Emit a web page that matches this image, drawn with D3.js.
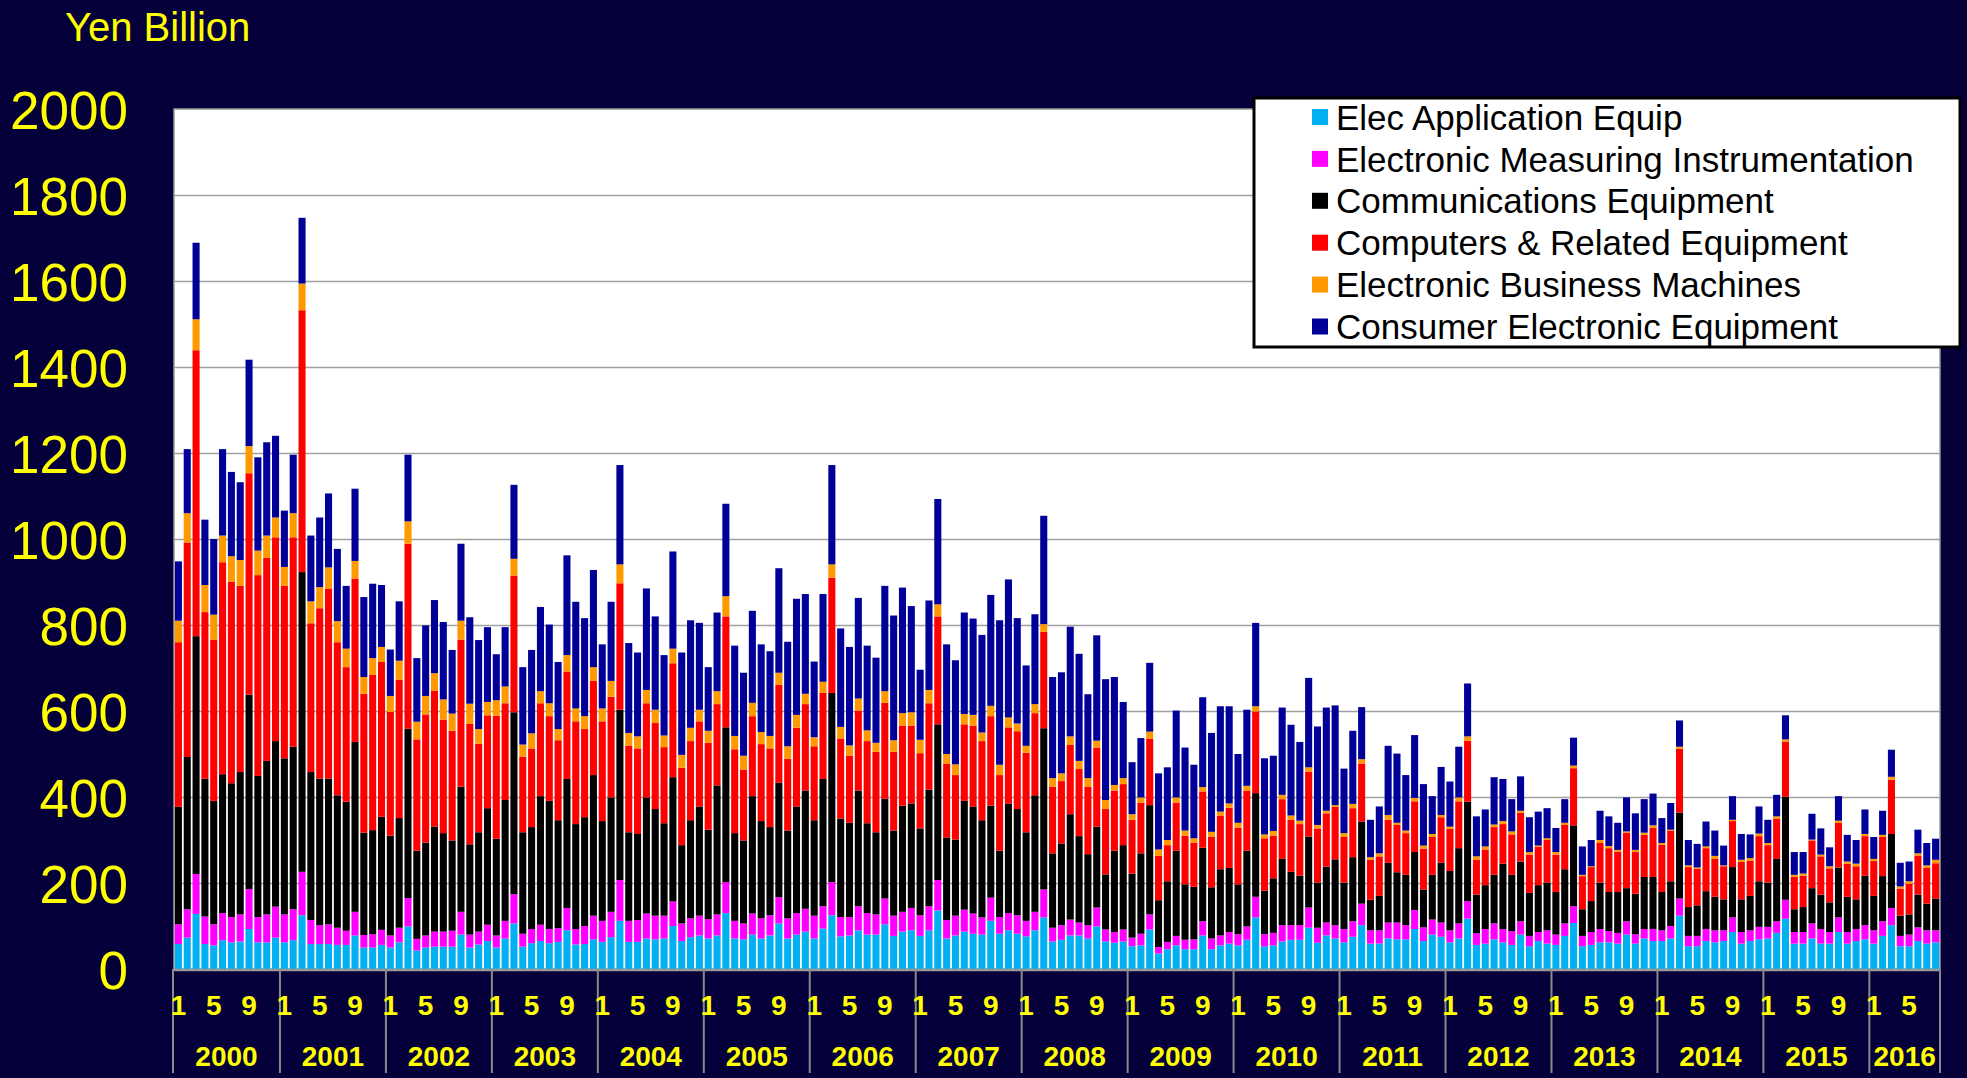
<!DOCTYPE html>
<html>
    <head>
        <meta charset="utf-8">
        <title>Japan Electronics Production - Yen Billion</title>
        <script src="https://cdn.jsdelivr.net/npm/d3@7"></script>
        <style>
            body { margin: 0; background: #05003a; }
            text { font-family: "Liberation Sans", Arial, sans-serif; }
        </style>
    </head>
    <body>
        <svg id="svg"></svg>

        <script>
            var WIDTH = 1967;
            var HEIGHT = 1078;
            var PLOT = {left: 174, right: 1940, top: 109, bottom: 969};

            var years = [2000,2001,2002,2003,2004,2005,2006,2007,2008,2009,2010,2011,2012,2013,2014,2015,2016];
            var monthsInYear = [12,12,12,12,12,12,12,12,12,12,12,12,12,12,12,12,8];
            var monthTicks = [1,5,9];
            var yTicks = [0,200,400,600,800,1000,1200,1400,1600,1800,2000];

            var seriesNames = ["Elec Application Equip","Electronic Measuring Instrumentation",
                               "Communications Equipment","Computers & Related Equipment",
                               "Electronic Business Machines","Consumer Electronic Equipment"];
            var seriesColors = ["#00b0f0","#ff00ff","#000000","#ff0000","#ff9900","#000099"];

            // one row per year, Jan..Dec
            var elecApp = [
                [58,73,128,58,55,67,62,64,93,62,62,73],
                [62,67,125,58,58,58,56,56,78,50,50,56],
                [50,62,99,43,50,52,52,52,80,50,57,65],
                [50,71,106,52,60,65,60,63,90,57,58,69],
                [63,74,112,63,63,71,69,71,100,65,74,78],
                [71,78,130,71,69,80,71,78,106,71,80,87],
                [71,94,125,76,78,90,80,80,104,77,87,90],
                [77,90,136,71,78,87,82,80,112,82,90,82],
                [76,90,120,64,68,78,78,71,99,64,61,64],
                [53,55,92,36,46,55,46,46,78,46,55,59],
                [55,68,120,53,55,64,68,68,96,61,78,71],
                [62,75,102,59,59,71,69,69,93,65,80,75],
                [62,71,117,56,59,69,62,56,80,53,65,59],
                [56,77,107,53,56,62,62,59,80,59,71,65],
                [65,71,124,53,53,65,62,65,86,59,65,69],
                [71,84,117,59,59,71,59,59,86,59,65,69],
                [59,77,102,53,53,65,59,62]
            ].flat();

            var measuring = [
                [46,66,93,64,49,63,59,63,93,59,65,72],
                [65,72,101,56,44,46,40,33,55,29,31,35],
                [28,34,66,27,28,35,35,37,53,30,30,38],
                [28,41,68,30,33,38,33,32,52,36,42,55],
                [49,59,95,49,51,58,55,53,57,41,44,46],
                [45,49,72,41,37,49,47,47,61,47,50,53],
                [53,52,77,45,43,56,50,47,60,47,46,52],
                [48,56,71,43,46,51,47,40,54,39,40,43],
                [36,43,65,32,34,37,30,31,44,28,25,28],
                [20,27,35,15,17,22,22,23,33,25,23,27],
                [26,31,48,28,29,38,34,34,47,35,30,31],
                [31,36,50,31,31,37,39,33,44,32,35,33],
                [28,35,41,27,34,37,31,32,31,24,21,31],
                [24,29,39,24,30,31,26,25,31,22,22,28],
                [25,29,40,24,24,28,28,25,34,27,25,29],
                [27,27,44,27,27,35,34,27,34,27,28,33],
                [31,34,40,24,27,32,31,28]
            ].flat();

            var communications = [
                [273,354,553,321,287,323,311,331,452,328,357,385],
                [363,378,697,344,341,339,308,300,395,238,242,263],
                [232,255,394,205,216,244,229,210,291,210,231,271],
                [225,281,423,236,237,299,298,251,300,244,253,327],
                [232,266,396,206,200,270,248,215,289,182,228,254],
                [208,300,360,204,193,273,226,205,266,204,248,275],
                [222,296,440,229,219,269,209,191,232,198,247,243],
                [202,271,362,192,177,253,249,226,214,154,255,247],
                [206,271,375,173,190,245,201,165,188,128,189,196],
                [149,187,254,109,141,198,129,122,171,119,154,149],
                [116,176,241,101,127,154,124,115,165,105,130,153],
                [108,149,191,71,80,139,117,117,135,88,104,139],
                [138,175,231,90,102,113,152,131,139,100,109,111],
                [99,126,188,62,72,108,91,95,77,94,121,121],
                [89,104,200,67,71,88,78,72,117,76,80,106],
                [103,145,240,53,58,82,80,69,116,82,69,115],
                [80,105,172,47,47,76,62,74]
            ].flat();

            var computers = [
                [383,499,665,387,375,493,469,433,515,467,472,474],
                [401,487,609,346,396,442,356,313,380,323,361,360],
                [288,322,430,259,298,316,264,255,342,280,206,216],
                [286,225,318,176,183,216,197,186,250,239,205,219],
                [232,234,294,201,199,219,200,177,265,180,184,198],
                [202,189,258,195,165,186,179,183,228,167,183,201],
                [172,200,268,186,156,186,191,187,223,183,186,181],
                [175,201,251,171,150,178,188,184,208,176,177,181],
                [185,191,224,155,145,161,156,157,184,152,140,142],
                [125,118,154,103,84,112,113,103,131,118,125,140],
                [132,139,190,122,99,139,121,120,151,126,124,122],
                [106,114,135,93,92,100,110,97,118,95,88,106],
                [98,109,142,81,83,111,92,94,113,89,89,99],
                [87,103,133,77,79,92,102,94,129,97,98,115],
                [110,118,148,93,85,100,88,77,107,87,82,105],
                [87,93,128,75,73,111,89,79,104,77,77,92],
                [81,91,126,63,71,91,83,82]
            ].flat();

            var business = [
                [50,68,72,63,58,62,59,60,63,57,52,46],
                [44,56,62,51,49,49,49,43,41,39,39,35],
                [37,44,52,41,43,41,47,40,44,47,34,31],
                [36,39,39,28,35,28,30,26,38,30,30,32],
                [30,37,44,30,28,31,31,27,34,30,31,27],
                [28,30,47,31,32,31,28,29,28,29,30,24],
                [21,26,31,27,24,28,25,21,27,27,29,31],
                [31,31,28,23,25,24,25,20,24,24,23,18],
                [16,21,18,20,18,20,19,20,16,21,13,14],
                [13,12,17,15,12,12,12,10,10,11,9,10],
                [11,12,12,9,11,10,10,8,10,8,6,4],
                [9,10,10,6,7,11,5,6,8,7,7,5],
                [5,9,10,8,7,6,7,7,5,6,3,4],
                [6,5,6,3,2,7,5,4,3,5,5,5],
                [4,2,5,4,3,4,7,2,3,5,6,6],
                [5,6,5,5,5,2,4,5,5,5,6,5],
                [5,5,7,5,6,5,6,8]
            ].flat();

            var consumer = [
                [138,149,178,152,176,201,196,181,201,217,217,190],
                [131,136,153,153,162,172,168,146,168,186,173,144],
                [108,138,155,148,164,170,180,148,179,201,207,174],
                [107,138,172,180,194,196,183,156,232,248,228,226],
                [149,184,231,209,195,236,217,187,226,238,250,202],
                [148,183,215,210,193,214,204,197,243,243,270,232],
                [176,204,231,229,229,234,197,198,245,290,292,247],
                [163,208,245,255,242,236,224,227,258,336,321,245],
                [187,209,252,235,235,255,249,195,245,281,251,177],
                [121,138,160,177,169,202,193,171,209,230,245,226],
                [160,177,194,177,175,203,211,183,208,229,240,232],
                [150,170,121,87,109,161,161,129,146,143,88,112],
                [105,118,123,93,86,110,98,75,80,81,79,70],
                [56,55,65,66,61,68,69,63,79,85,78,74],
                [58,62,61,59,55,58,59,46,55,60,55,63],
                [54,50,56,53,50,60,61,44,57,62,55,57],
                [51,56,63,55,46,55,52,49]
            ].flat();

            var seriesValues = [elecApp, measuring, communications, computers, business, consumer];

            // month keys "2000-1" ... "2016-8"
            var months = [];
            years.forEach(function(y, yi){
                for(var m=1; m<=monthsInYear[yi]; m++){
                    months.push({key: y+"-"+m, year: y, month: m});
                }
            });

            var rows = months.map(function(d, i){
                var r = {key: d.key};
                seriesNames.forEach(function(s, si){ r[s] = seriesValues[si][i]; });
                return r;
            });

            var svg = d3.select('#svg')
                        .attr('width', WIDTH)
                        .attr('height', HEIGHT)
                        .style('display', 'block');

            svg.append('rect')
               .attr('width', WIDTH).attr('height', HEIGHT)
               .attr('fill', '#05003a');

            var x = d3.scaleBand()
                      .domain(months.map(function(d){ return d.key; }))
                      .range([PLOT.left, PLOT.right])
                      .paddingInner(0.2)
                      .paddingOuter(0.1);

            var y = d3.scaleLinear()
                      .domain([0, 2000])
                      .range([PLOT.bottom, PLOT.top]);

            // plot background
            svg.append('rect')
               .attr('x', PLOT.left).attr('y', PLOT.top)
               .attr('width', PLOT.right - PLOT.left)
               .attr('height', PLOT.bottom - PLOT.top)
               .attr('fill', 'white')
               .attr('stroke', '#9a9a9a')
               .attr('stroke-width', 1.5);

            // gridlines
            svg.append('g')
               .attr('transform', 'translate(' + PLOT.left + ',0)')
               .call(d3.axisLeft(y).tickValues(yTicks.slice(1, -1))
                        .tickSize(-(PLOT.right - PLOT.left)).tickFormat(''))
               .call(function(g){ g.select('.domain').remove(); })
               .selectAll('line')
               .attr('stroke', '#a0a0a0')
               .attr('stroke-width', 1.5);

            // y tick labels
            var yAxis = svg.append('g')
               .attr('transform', 'translate(128,0)')
               .call(d3.axisLeft(y).tickValues(yTicks).tickSize(0).tickPadding(0)
                        .tickFormat(d3.format('d')));
            yAxis.select('.domain').remove();
            yAxis.selectAll('text')
               .attr('fill', '#ffff00')
               .attr('font-size', '53px')
               .attr('font-family', '"Liberation Sans", Arial, sans-serif')
               .attr('dy', '0.36em');

            // stacked bars
            var stack = d3.stack().keys(seriesNames);
            var layers = stack(rows);

            svg.append('g')
               .selectAll('g')
               .data(layers)
               .enter()
               .append('g')
               .attr('fill', function(d, i){ return seriesColors[i]; })
               .selectAll('rect')
               .data(function(d){ return d; })
               .enter()
               .append('rect')
               .attr('x', function(d){ return x(d.data.key); })
               .attr('width', x.bandwidth())
               .attr('y', function(d){ return y(d[1]); })
               .attr('height', function(d){ return y(d[0]) - y(d[1]); });

            // x axis line
            svg.append('line')
               .attr('x1', PLOT.left - 1).attr('x2', PLOT.right)
               .attr('y1', PLOT.bottom + 1).attr('y2', PLOT.bottom + 1)
               .attr('stroke', '#9a9a9a')
               .attr('stroke-width', 2.5);

            // year groups
            var step = x.step();
            var yearSpans = years.map(function(yr){
                var ms = months.filter(function(d){ return d.year === yr; });
                var x0 = x(ms[0].key) - step * x.paddingInner() / 2;
                var x1 = x(ms[ms.length - 1].key) + x.bandwidth() + step * x.paddingInner() / 2;
                return {year: yr, x0: x0, x1: x1};
            });
            yearSpans[0].x0 = PLOT.left - 1;
            yearSpans[yearSpans.length - 1].x1 = PLOT.right;

            var sepX = yearSpans.map(function(d){ return d.x0; }).concat([PLOT.right]);
            svg.append('g')
               .selectAll('line')
               .data(sepX)
               .enter()
               .append('line')
               .attr('x1', function(d){ return d; })
               .attr('x2', function(d){ return d; })
               .attr('y1', PLOT.bottom)
               .attr('y2', 1073)
               .attr('stroke', '#8a8a8a')
               .attr('stroke-width', 2);

            svg.append('g')
               .selectAll('text')
               .data(months.filter(function(d){ return monthTicks.indexOf(d.month) >= 0; }))
               .enter()
               .append('text')
               .text(function(d){ return d.month; })
               .attr('x', function(d){ return x(d.key) + x.bandwidth() / 2; })
               .attr('y', 1015)
               .attr('text-anchor', 'middle')
               .attr('fill', '#ffff00')
               .attr('font-weight', 'bold')
               .attr('font-size', '28px');

            svg.append('g')
               .selectAll('text')
               .data(yearSpans)
               .enter()
               .append('text')
               .text(function(d){ return d.year; })
               .attr('x', function(d){ return (d.x0 + d.x1) / 2; })
               .attr('y', 1066)
               .attr('text-anchor', 'middle')
               .attr('fill', '#ffff00')
               .attr('font-weight', 'bold')
               .attr('font-size', '28px');

            // unit label
            svg.append('text')
               .text('Yen Billion')
               .attr('x', 65)
               .attr('y', 41)
               .attr('fill', '#ffff00')
               .attr('font-size', '40px');

            // legend
            var legend = svg.append('g');
            legend.append('rect')
               .attr('x', 1254).attr('y', 98)
               .attr('width', 706).attr('height', 249)
               .attr('fill', 'white')
               .attr('stroke', 'black')
               .attr('stroke-width', 3);

            var items = legend.selectAll('g')
               .data(seriesNames)
               .enter()
               .append('g')
               .attr('transform', function(d, i){ return 'translate(1312,' + (117 + i * 41.9) + ')'; });
            items.append('rect')
               .attr('x', 0).attr('y', -8)
               .attr('width', 16).attr('height', 16)
               .attr('fill', function(d, i){ return seriesColors[i]; });
            items.append('text')
               .text(function(d){ return d; })
               .attr('x', 24)
               .attr('dy', '0.36em')
               .attr('fill', 'black')
               .attr('font-size', '35px');
        </script>
    </body>
</html>
